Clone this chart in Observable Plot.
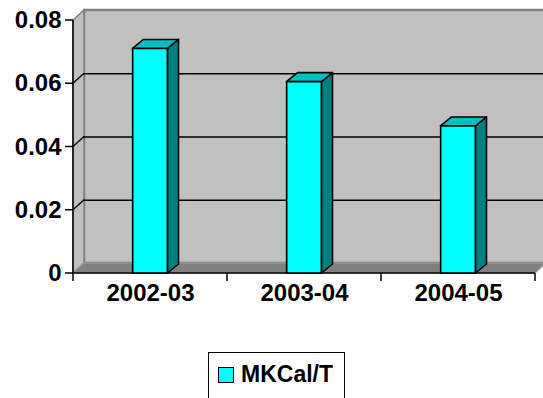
<!DOCTYPE html>
<html>
<head>
<meta charset="utf-8">
<script src="https://cdn.jsdelivr.net/npm/d3@7"></script>
<script src="https://cdn.jsdelivr.net/npm/@observablehq/plot@0.6"></script>
<style>
  html, body { margin: 0; padding: 0; width: 543px; height: 398px; overflow: hidden; background: #fff; }
  #chart { position: absolute; left: 0; top: 0; }
  #legend {
    position: absolute; left: 208px; top: 352px; width: 137px; height: 70px;
    border: 1.5px solid #000; box-sizing: border-box; background: #fff;
    font: bold 23px "Liberation Sans", Arial, sans-serif; color: #000;
  }
  #legend .swatch {
    position: absolute; left: 9px; top: 13.5px; width: 14px; height: 14px;
    background: #00ffff; border: 1px solid #000;
  }
  #legend .label { position: absolute; left: 32px; top: 10px; line-height: 23px; white-space: nowrap; }
</style>
</head>
<body>
<div id="chart"></div>
<div id="legend"><span class="swatch"></span><span class="label"></span></div>
<script>
// Energy use per tonne, by year
const categories = ["2002-03", "2003-04", "2004-05"];
const values = [0.071, 0.0605, 0.0465];
const yTicks = [0, 0.02, 0.04, 0.06, 0.08];
const seriesName = "MKCal/T";

const data = categories.map((year, i) => ({year, value: values[i]}));
const yMax = d3.max(yTicks);

// page geometry
const W = 543, H = 340;
const M = {top: 20, right: 8, bottom: 67, left: 72};
const BAND = (W - M.left - M.right) / categories.length;
const BAR_W = 35;
const INSET = (BAND - BAR_W) / 2;

// oblique depth of the walls and of the columns
const DX = 11, DY = -10;
const BDX = 11, BDY = -9;

const WALL = "#c0c0c0", FLOOR = "#808080", EDGE = "#808080";
const FRONT = "#00ffff", TOP = "#00c0c0", SIDE = "#008080";
const FONT = "'Liberation Sans', Arial, sans-serif";

const pts = (p) => p.map((q) => q.join(",")).join(" ");

function bandWidth(x) {
  return typeof x.bandwidth === "function" ? x.bandwidth() : BAND;
}

// back wall, left wall and floor of the plot box
function box(index, {x, y}) {
  const g = d3.create("svg:g");
  const bw = bandWidth(x);
  const x0 = x(categories[0]), x1 = x(categories[categories.length - 1]) + bw;
  const yb = y(0), yt = y(yMax);
  g.append("polygon")
    .attr("points", pts([[x0 + DX, yt + DY], [x1 + DX, yt + DY], [x1 + DX, yb + DY], [x0 + DX, yb + DY]]))
    .attr("fill", WALL).attr("stroke", EDGE).attr("stroke-width", 2.5);
  g.append("polygon")
    .attr("points", pts([[x0, yt], [x0 + DX, yt + DY], [x0 + DX, yb + DY], [x0, yb]]))
    .attr("fill", WALL).attr("stroke", EDGE).attr("stroke-width", 1.5);
  g.append("polygon")
    .attr("points", pts([[x0, yb], [x0 + DX, yb + DY], [x1 + DX, yb + DY], [x1, yb]]))
    .attr("fill", FLOOR).attr("stroke", "#999").attr("stroke-width", 1.2);
  return g.node();
}

// gridline returns on the left wall, plus both axis lines and their ticks
function axes(index, {x, y}) {
  const g = d3.create("svg:g").attr("stroke", "#000").attr("fill", "none");
  const bw = bandWidth(x);
  const x0 = x(categories[0]), x1 = x(categories[categories.length - 1]) + bw;
  const yb = y(0), yt = y(yMax);
  for (const v of yTicks) {
    if (v > 0 && v < yMax) {
      g.append("line").attr("x1", x0).attr("y1", y(v)).attr("x2", x0 + DX).attr("y2", y(v) + DY).attr("stroke-width", 1.3);
    }
    g.append("line").attr("x1", x0 - 8).attr("y1", y(v)).attr("x2", x0).attr("y2", y(v)).attr("stroke-width", 1.5);
  }
  g.append("line").attr("x1", x0).attr("y1", yt).attr("x2", x0).attr("y2", yb).attr("stroke-width", 1.5);
  g.append("line").attr("x1", x0).attr("y1", yb).attr("x2", x1).attr("y2", yb).attr("stroke-width", 1.5);
  const edges = categories.map((c) => x(c)).concat([x1]);
  for (const e of edges) {
    g.append("line").attr("x1", e).attr("y1", yb).attr("x2", e).attr("y2", yb + 8).attr("stroke-width", 1.5);
  }
  return g.node();
}

// top and right-hand faces of each column
function columnDepth(index, {x, y}) {
  const g = d3.create("svg:g").attr("stroke", "#000").attr("stroke-width", 1.6).attr("stroke-linejoin", "round");
  const bw = bandWidth(x);
  for (const d of data) {
    const cx = x(d.year) + bw / 2;
    const l = cx - BAR_W / 2, r = cx + BAR_W / 2;
    const top = y(d.value), bot = y(0);
    g.append("polygon").attr("fill", SIDE)
      .attr("points", pts([[r, top], [r + BDX, top + BDY], [r + BDX, bot + BDY], [r, bot]]));
    g.append("polygon").attr("fill", TOP)
      .attr("points", pts([[l, top], [l + BDX, top + BDY], [r + BDX, top + BDY], [r, top]]));
  }
  return g.node();
}

const chart = Plot.plot({
  width: W,
  height: H,
  marginTop: M.top,
  marginRight: M.right,
  marginBottom: M.bottom,
  marginLeft: M.left,
  style: {background: "#fff", fontFamily: FONT, overflow: "visible"},
  x: {type: "band", domain: categories, padding: 0, axis: null},
  y: {domain: [0, yMax], axis: null},
  marks: [
    box,
    Plot.ruleY(yTicks.filter((v) => v > 0 && v < yMax), {dx: DX, dy: DY, stroke: "#000", strokeWidth: 1.3}),
    axes,
    columnDepth,
    Plot.rectY(data, {
      x: "year", y: "value", fill: FRONT, stroke: "#000", strokeWidth: 1.6,
      insetLeft: INSET, insetRight: INSET
    }),
    Plot.text(yTicks, {
      y: (d) => d, text: (d) => (d === 0 ? "0" : d3.format(".2f")(d)),
      frameAnchor: "left", textAnchor: "end", dx: -11,
      fontSize: 24, fontWeight: "bold", fontFamily: FONT, fill: "#000"
    }),
    Plot.text(data, {
      x: "year", text: "year", frameAnchor: "bottom", dy: 27,
      fontSize: 24, fontWeight: "bold", fontFamily: FONT, fill: "#000"
    })
  ]
});

document.getElementById("chart").append(chart);
document.querySelector("#legend .label").textContent = seriesName;
</script>
</body>
</html>
